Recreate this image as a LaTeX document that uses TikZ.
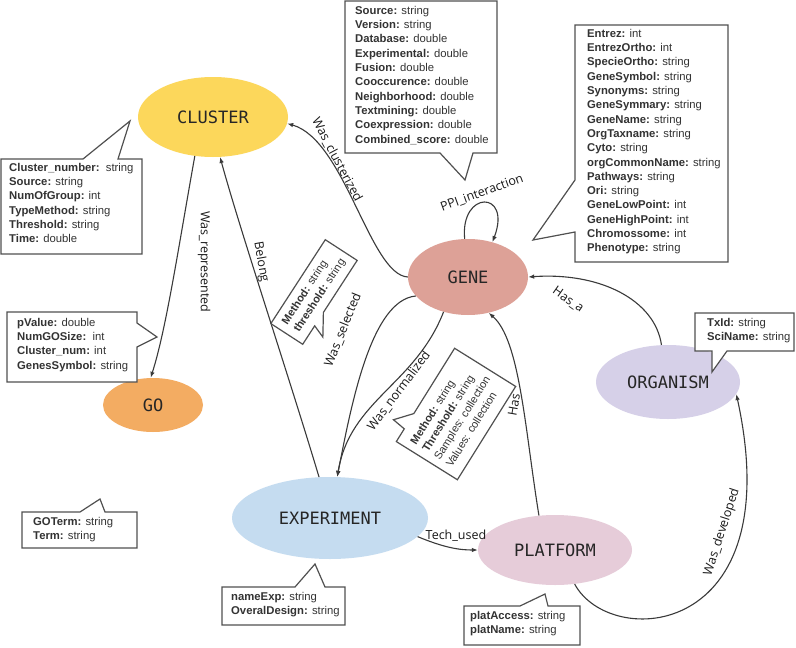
\documentclass[tikz,border=0pt]{standalone}
\usepackage{fontspec}
\setmainfont{Liberation Sans}
\newfontfamily\entfont{DejaVu Sans Mono}
\newfontfamily\lblfont{Open Sans}
\usetikzlibrary{arrows.meta,shapes.geometric}
\definecolor{clusterc}{HTML}{FCD75B}
\definecolor{genec}{HTML}{DDA197}
\definecolor{goc}{HTML}{F3AC62}
\definecolor{expc}{HTML}{C5DCF0}
\definecolor{platc}{HTML}{E6CCD9}
\definecolor{orgc}{HTML}{D6D0E8}
\definecolor{linec}{HTML}{3A3A3A}
\definecolor{boxc}{HTML}{505050}
\begin{document}
\begin{tikzpicture}[x=1pt,y=-1pt,
  ent/.style={ellipse, inner sep=0, font=\entfont\fontsize{17}{17}\selectfont, text=black!85},
  rel/.style={draw=linec, line width=1.1pt, -{Latex[length=6pt,width=4.5pt]}},
  elbl/.style={font=\lblfont\fontsize{12.5}{12.5}\selectfont, inner sep=0, text=black!90},
  callout/.style={draw=boxc, line width=1.2pt, fill=white, line join=miter},
  attr/.style={font=\fontsize{11.3}{14.3}\selectfont, align=left, inner sep=0, anchor=north west, text=black!80},
  rattr/.style={font=\fontsize{11}{14}\selectfont, align=left, inner sep=0, text=black!80}]
\fill[white] (0,0) rectangle (796,648);
\useasboundingbox (0,0) rectangle (796,648);

% entities
\node[ent, fill=clusterc, minimum width=150, minimum height=80] (cluster) at (213,117) {CLUSTER};
\node[ent, fill=genec, minimum width=120, minimum height=76] (gene) at (468,277) {GENE};
\node[ent, fill=goc, minimum width=100, minimum height=54] (go) at (153,405) {GO};
\node[ent, fill=expc, minimum width=196, minimum height=82] (exp) at (330,518) {EXPERIMENT};
\node[ent, fill=platc, minimum width=154, minimum height=70] (plat) at (555,550) {PLATFORM};
\node[ent, fill=orgc, minimum width=144, minimum height=74] (org) at (668,382) {ORGANISM};

% relations
\draw[rel] (gene.180) .. controls (370,275) and (345,140) .. (cluster.-5);
\node[elbl, rotate=-62] (l1) at (337,160) {Was\_clusterized};
\draw[rel] (cluster.-115) .. controls (178,250) and (166,330) .. (go.95);
\node[elbl, rotate=-90] (l2) at (204,262) {Was\_represented};
\draw[rel] (exp.105) .. controls (290,380) and (240,230) .. (cluster.-80);
\node[elbl, rotate=-80] (l3) at (261,262) {Belong};
\draw[rel] (gene.200) .. controls (372,300) and (352,400) .. (exp.80);
\node[elbl, rotate=68] (l4) at (343,330) {Was\_selected};
\draw[rel] (gene.235) .. controls (415,385) and (350,400) .. (exp.80);
\node[elbl, rotate=53] (l5) at (399,391) {Was\_normalized};
\draw[rel] (exp.-12) .. controls (445,548) and (460,550) .. (plat.180);
\node[elbl] (l6) at (456,536) {Tech\_used};
\draw[rel] (plat.115) .. controls (525,430) and (520,340) .. (gene.-60);
\node[elbl, rotate=80] (l7) at (514,405) {Has};
\draw[rel] (org.100) .. controls (655,300) and (600,272) .. (gene.0);
\node[elbl, rotate=-35] (l8) at (568,300) {Has\_a};
\draw[rel] (plat.-60) .. controls (610,650) and (790,640) .. (org.-10);
\node[elbl, rotate=72] (l9) at (722,532) {Was\_developed};
\draw[rel] (gene.95) .. controls (460,190) and (512,190) .. (gene.55);
\node[elbl, rotate=20] (l10) at (482,193) {PPI\_interaction};

% callouts
\draw[callout] (1,159) -- (83,159) -- (130,121) -- (118,159) -- (142,159) -- (142,254) -- (1,254) -- cycle;
\node[attr] (c1) at (9,163) {\textbf{Cluster\_number:}\ \ string\\\textbf{Source:} string\\\textbf{NumOfGroup:} int\\\textbf{TypeMethod:} string\\\textbf{Threshold:} string\\\textbf{Time:} double};

\draw[callout] (345,1) -- (497,1) -- (497,153) -- (473,153) -- (465,180) -- (440,153) -- (345,153) -- cycle;
\node[attr] (c2) at (355,6) {\textbf{Source:} string\\\textbf{Version:} string\\\textbf{Database:} double\\\textbf{Experimental:} double\\\textbf{Fusion:} double\\\textbf{Cooccurence:} double\\\textbf{Neighborhood:} double\\\textbf{Textmining:} double\\\textbf{Coexpression:} double\\\textbf{Combined\_score:} double};

\draw[callout] (575,25) -- (728,25) -- (728,262) -- (575,262) -- (575,232) -- (533,240) -- (575,180) -- cycle;
\node[attr] (c3) at (587,29) {\textbf{Entrez:} int\\\textbf{EntrezOrtho:} int\\\textbf{SpecieOrtho:} string\\\textbf{GeneSymbol:} string\\\textbf{Synonyms:} string\\\textbf{GeneSymmary:} string\\\textbf{GeneName:} string\\\textbf{OrgTaxname:} string\\\textbf{Cyto:} string\\\textbf{orgCommonName:} string\\\textbf{Pathways:} string\\\textbf{Ori:} string\\\textbf{GeneLowPoint:} int\\\textbf{GeneHighPoint:} int\\\textbf{Chromossome:} int\\\textbf{Phenotype:} string};

\draw[callout] (7,312) -- (137,312) -- (137,323) -- (157,337) -- (137,347) -- (137,382) -- (7,382) -- cycle;
\node[attr] (c4) at (17,318) {\textbf{pValue:} double\\\textbf{NumGOSize:}\ \ int\\\textbf{Cluster\_num:} int\\\textbf{GenesSymbol:} string};

\draw[callout] (22,512) -- (80,512) -- (100,499) -- (105,512) -- (137,512) -- (137,548) -- (22,548) -- cycle;
\node[attr] (c5) at (33,517) {\textbf{GOTerm:} string\\\textbf{Term:} string};

\draw[callout] (695,313) -- (794,313) -- (794,351) -- (727,351) -- (712,372) -- (712,351) -- (695,351) -- cycle;
\node[attr] (c6) at (707,318) {\textbf{TxId:} string\\\textbf{SciName:} string};

\draw[callout] (222,587) -- (295,587) -- (315,564) -- (325,587) -- (345,587) -- (345,625) -- (222,625) -- cycle;
\node[attr] (c7) at (231,592) {\textbf{nameExp:} string\\\textbf{OveralDesign:} string};

\draw[callout] (464,606) -- (520,606) -- (545,594) -- (548,606) -- (580,606) -- (580,645) -- (464,645) -- cycle;
\node[attr] (c8) at (470,611) {\textbf{platAccess:} string\\\textbf{platName:} string};

% rotated callouts
\begin{scope}[shift={(314,292)}, rotate=57]
\draw[callout] (-50,-19) -- (50,-19) -- (50,19) -- (-12,19) -- (-33,32) -- (-28,19) -- (-50,19) -- cycle;
\end{scope}
\node[rattr, rotate=57] (c9) at (314,292) {\textbf{Method:} string\\\textbf{threshold:} string};

\begin{scope}[shift={(456,414)}, rotate=58]
\draw[callout] (-55,-36) -- (-40,-36) -- (-38,-50) -- (-22,-36) -- (55,-36) -- (55,36) -- (-55,36) -- cycle;
\end{scope}
\node[rattr, rotate=58] (c10) at (456,414) {\textbf{Method:} string\\\textbf{Threshold:} string\\Samples: collection\\Values: collection};
\end{tikzpicture}
\end{document}
